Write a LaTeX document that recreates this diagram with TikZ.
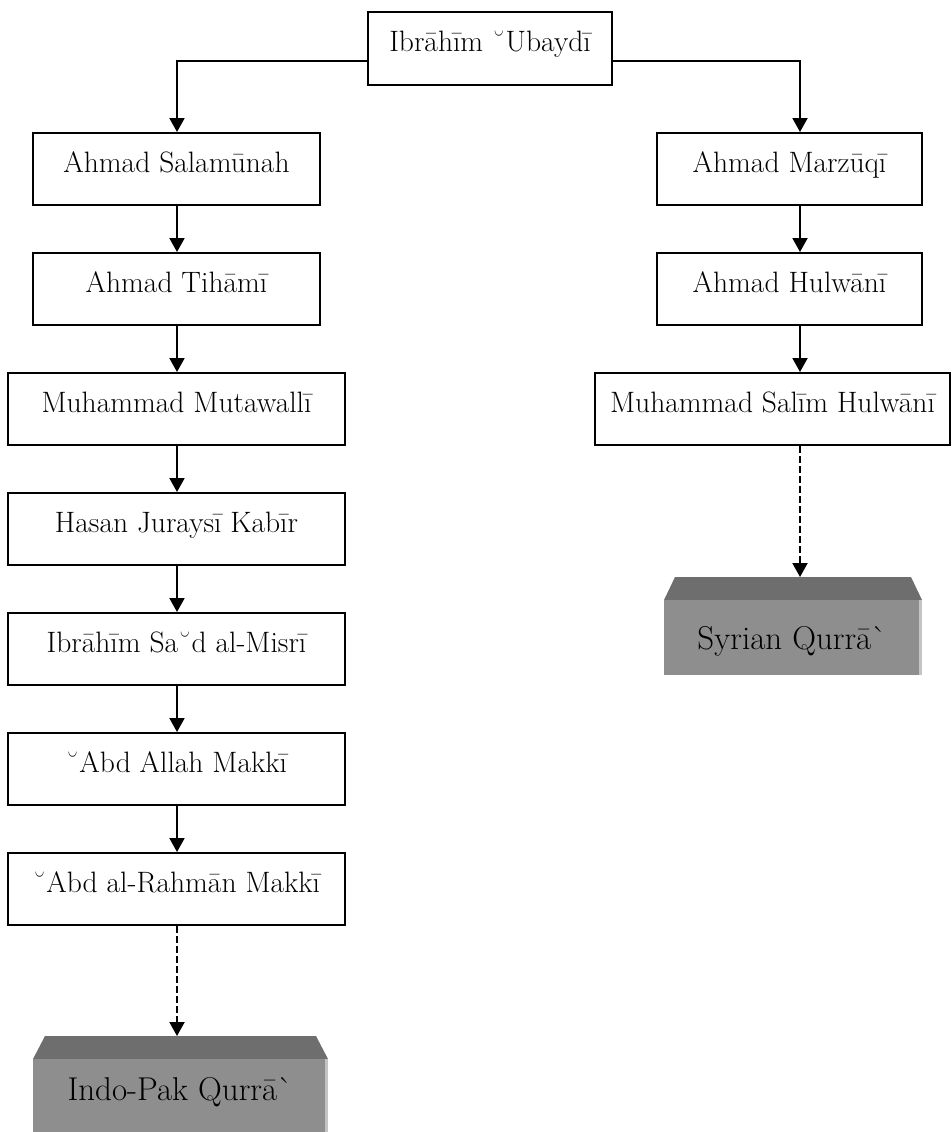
\documentclass[tikz,border=0pt]{standalone}
\usetikzlibrary{arrows.meta}
\definecolor{gtop}{HTML}{6E6E6E}
\definecolor{gface}{HTML}{8E8E8E}
\definecolor{gedge}{HTML}{C4C4C4}
\newcommand\qgrave{\XeTeXglyph\XeTeXglyphindex "grave" \relax}
\begin{document}
\begin{tikzpicture}[x=1pt,y=-1pt,
  box/.style={draw=black, line width=2pt, inner sep=0pt, text height=21pt, text depth=15pt,
    font=\fontsize{29.5}{34}\selectfont, minimum height=72pt},
  arr/.style={line width=2pt, -{Triangle[length=14pt,width=15pt]}},
  dsh/.style={arr, dash pattern=on 7pt off 3pt},
  gtext/.style={anchor=base, inner sep=0pt, font=\fontsize{33}{38}\selectfont}]
\useasboundingbox (0,0) rectangle (951,1132);
\coordinate (lx) at (177,0);
\coordinate (rx) at (800,0);
% boxes
\node[box, minimum width=244pt] (top) at (490,48.5) {Ibrāhīm ˘Ubaydī};
\node[box, minimum width=287pt] (sal) at (176.5,169) {Ahmad Salamūnah};
\node[box, minimum width=287pt] (tih) at (176.5,289) {Ahmad Tihāmī};
\node[box, minimum width=337pt] (mut) at (176.5,409) {Muhammad Mutawallī};
\node[box, minimum width=337pt] (has) at (176.5,529) {Hasan Juraysī Kabīr};
\node[box, minimum width=337pt] (ibr) at (176.5,649) {Ibrāhīm Sa˘d al-Misrī};
\node[box, minimum width=337pt] (abd) at (176.5,769) {˘Abd Allah Makkī};
\node[box, minimum width=337pt] (rah) at (176.5,889) {˘Abd al-Rahmān Makkī};
\node[box, minimum width=265pt] (mar) at (789.5,169) {Ahmad Marzūqī};
\node[box, minimum width=265pt] (hul) at (789.5,289) {Ahmad Hulwānī};
\node[box, minimum width=355pt] (salim) at (772.5,409) {Muhammad Salīm Hulwānī};
% gray boxes
\fill[gtop] (675,577) -- (911,577) -- (922,600) -- (664,600) -- cycle;
\fill[gface] (664,600) rectangle (919,675);
\fill[gedge] (919,600) rectangle (922,675);
\fill[gtop] (45,1036) -- (316,1036) -- (328,1059) -- (33,1059) -- cycle;
\fill[gface] (33,1059) rectangle (325,1132);
\fill[gedge] (325,1059) rectangle (328,1132);
\coordinate (syrtop) at (800,577);
\coordinate (indotop) at (177,1036);
\node[gtext] (syr) at (792,649) {Syrian Qurrā\qgrave};
\node[gtext] (indo) at (180,1100) {Indo-Pak Qurrā\qgrave};
% connectors
\draw[arr] ([yshift=-12.5pt]top.west) -| (sal.north -| lx);
\draw[arr] ([yshift=-12.5pt]top.east) -| (mar.north -| rx);
\draw[arr] (sal.south -| lx) -- (tih.north -| lx);
\draw[arr] (tih.south -| lx) -- (mut.north -| lx);
\draw[arr] (mut.south -| lx) -- (has.north -| lx);
\draw[arr] (has.south -| lx) -- (ibr.north -| lx);
\draw[arr] (ibr.south -| lx) -- (abd.north -| lx);
\draw[arr] (abd.south -| lx) -- (rah.north -| lx);
\draw[dsh] (rah.south -| lx) -- (indotop);
\draw[arr] (mar.south -| rx) -- (hul.north -| rx);
\draw[arr] (hul.south -| rx) -- (salim.north -| rx);
\draw[dsh] (salim.south -| rx) -- (syrtop);
\end{tikzpicture}
\end{document}
